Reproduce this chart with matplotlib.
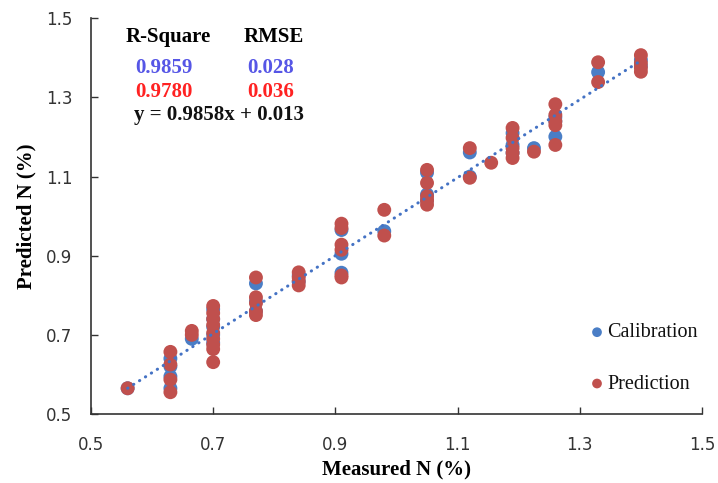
import numpy as np
import matplotlib
matplotlib.use("Agg")
import matplotlib.pyplot as plt
from matplotlib.font_manager import FontProperties

# データ
cal_x = [0.56, 0.63, 0.63, 0.63, 0.63, 0.665, 0.70, 0.70, 0.70, 0.70, 0.70,
         0.77, 0.77, 0.77, 0.84, 0.84, 0.91, 0.91, 0.91, 0.98,
         1.05, 1.05, 1.05, 1.12, 1.12, 1.19, 1.19, 1.19, 1.225,
         1.26, 1.26, 1.26, 1.33, 1.40, 1.40]
cal_y = [0.565, 0.64, 0.62, 0.595, 0.565, 0.69, 0.765, 0.74, 0.72, 0.70, 0.68,
         0.83, 0.785, 0.76, 0.85, 0.835, 0.965, 0.905, 0.857, 0.962,
         1.11, 1.055, 1.04, 1.161, 1.10, 1.21, 1.18, 1.16, 1.172,
         1.25, 1.24, 1.201, 1.364, 1.395, 1.38]

pred_x = [0.56, 0.63, 0.63, 0.63, 0.63, 0.665, 0.665,
          0.70, 0.70, 0.70, 0.70, 0.70, 0.70, 0.70, 0.70, 0.70,
          0.77, 0.77, 0.77, 0.77, 0.77, 0.84, 0.84, 0.84, 0.84,
          0.91, 0.91, 0.91, 0.91, 0.91, 0.91, 0.98, 0.98,
          1.05, 1.05, 1.05, 1.05, 1.05, 1.12, 1.12, 1.155,
          1.19, 1.19, 1.19, 1.19, 1.19, 1.225,
          1.26, 1.26, 1.26, 1.26, 1.26, 1.33, 1.33,
          1.40, 1.40, 1.40, 1.40]
pred_y = [0.565, 0.657, 0.625, 0.587, 0.555, 0.71, 0.70,
          0.773, 0.755, 0.74, 0.725, 0.705, 0.69, 0.675, 0.664, 0.631,
          0.845, 0.795, 0.78, 0.76, 0.75, 0.858, 0.845, 0.835, 0.825,
          0.981, 0.97, 0.928, 0.915, 0.85, 0.845, 1.016, 0.951,
          1.117, 1.084, 1.05, 1.029, 1.04, 1.172, 1.097, 1.135,
          1.223, 1.198, 1.172, 1.147, 1.16, 1.163,
          1.283, 1.256, 1.23, 1.18, 1.24, 1.389, 1.339,
          1.407, 1.387, 1.365, 1.375]

slope = 0.9858
intercept = 0.013
r2_vals = ["0.9859", "0.9780"]
rmse_vals = ["0.028", "0.036"]
ticks = [0.5, 0.7, 0.9, 1.1, 1.3, 1.5]

blue = "#4A7EC6"
red = "#C0504D"
serif = ["Liberation Serif", "DejaVu Serif"]

fig = plt.figure(figsize=(7.18, 4.83), dpi=100)
ax = fig.add_axes([0.1267, 0.1429, 0.851, 0.8191])

ax.scatter(cal_x, cal_y, s=100, color=blue, edgecolors="none", label="Calibration", zorder=2)
ax.scatter(pred_x, pred_y, s=100, color=red, edgecolors="none", label="Prediction", zorder=3)

# 近似直線 (点線)
xs = np.array([min(cal_x + pred_x), max(cal_x + pred_x)])
ax.plot(xs, slope * xs + intercept, color="#4472C4", lw=2.2, linestyle=(0, (0.1, 2.2)),
        dash_capstyle="round", zorder=4)

ax.set_xlim(0.5, 1.5)
ax.set_ylim(0.5, 1.5)
ax.set_xticks(ticks)
ax.set_yticks(ticks)
ax.set_xticklabels(["%.1f" % t for t in ticks], family="DejaVu Sans", fontsize=12, color="#333333")
ax.set_yticklabels(["%.1f" % t for t in ticks], family="DejaVu Sans", fontsize=12, color="#333333")
ax.tick_params(direction="in", length=5, width=1, color="#333333")
ax.tick_params(axis="x", pad=16)
ax.tick_params(axis="y", pad=13.5)
for side in ["top", "right"]:
    ax.spines[side].set_visible(False)
for side in ["left", "bottom"]:
    ax.spines[side].set_linewidth(1.2)
    ax.spines[side].set_color("#333333")

ax.set_xlabel("Measured N (%)", family=serif, fontweight="bold", fontsize=15, labelpad=4)
ax.set_ylabel("Predicted N (%)", family=serif, fontweight="bold", fontsize=15, labelpad=7)

# 注釈
ax.text(0.557, 1.452, "R-Square", family=serif, fontweight="bold", fontsize=15, va="center")
ax.text(0.750, 1.452, "RMSE", family=serif, fontweight="bold", fontsize=15, va="center")
ax.text(0.572, 1.374, r2_vals[0], family=serif, fontweight="bold", fontsize=15, color="#5656E6", va="center")
ax.text(0.755, 1.374, rmse_vals[0], family=serif, fontweight="bold", fontsize=15, color="#5656E6", va="center")
ax.text(0.572, 1.314, r2_vals[1], family=serif, fontweight="bold", fontsize=15, color="#FF2222", va="center")
ax.text(0.755, 1.314, rmse_vals[1], family=serif, fontweight="bold", fontsize=15, color="#FF2222", va="center")
ax.text(0.570, 1.255, "y = %.4fx + %.3f" % (slope, intercept), family=serif, fontweight="bold",
        fontsize=15, color="#111111", va="center")

leg_font = FontProperties(family="Liberation Serif", size=14.5)
leg = ax.legend(loc="center left", bbox_to_anchor=(0.815, 0.14), frameon=False,
                prop=leg_font, borderpad=0, borderaxespad=0,
                handletextpad=0.1, labelspacing=1.6, markerscale=0.7, handlelength=0.8)
for t in leg.get_texts():
    t.set_color("#111111")

fig.savefig("out.png", dpi=100)
